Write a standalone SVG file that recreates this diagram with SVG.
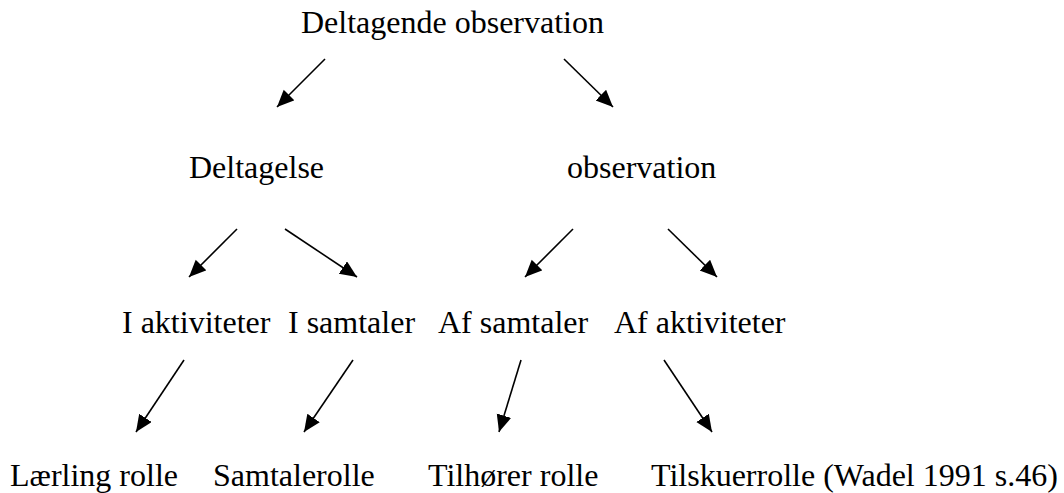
<svg xmlns="http://www.w3.org/2000/svg" width="1064" height="493" viewBox="0 0 1064 493">
<style>
text{font-family:"Liberation Serif","Times New Roman",serif;font-size:32px;fill:#000}
.c line{stroke:#000;stroke-width:1.6;marker-end:url(#ah)}
</style>
<defs>
<marker id="ah" markerUnits="userSpaceOnUse" markerWidth="20" markerHeight="16" refX="17" refY="7.5" orient="auto">
<path d="M0,0 L17,7.5 L0,15 Z" fill="#000"/>
</marker>
</defs>
<rect width="1064" height="493" fill="#fff"/>
<g id="n-root"><text x="301" y="33">Deltagende observation</text></g>
<g id="n-deltagelse"><text x="189" y="178">Deltagelse</text></g>
<g id="n-observation"><text x="567" y="178">observation</text></g>
<g id="n-iakt"><text x="122" y="333">I aktiviteter</text></g>
<g id="n-isam"><text x="288" y="333">I samtaler</text></g>
<g id="n-afsam"><text x="438" y="333">Af samtaler</text></g>
<g id="n-afakt"><text x="614" y="333">Af aktiviteter</text></g>
<g id="n-laerling"><text x="10" y="486">Lærling rolle</text></g>
<g id="n-samtalerolle"><text x="213" y="486">Samtalerolle</text></g>
<g id="n-tilhorer"><text x="428" y="486">Tilhører rolle</text></g>
<g id="n-tilskuer"><text x="651" y="486">Tilskuerrolle (Wadel 1991 s.46)</text></g>
<g id="connectors" class="c">
<line x1="325" y1="59" x2="277" y2="107"/>
<line x1="564" y1="59" x2="613" y2="107"/>
<line x1="237" y1="229" x2="189" y2="277"/>
<line x1="285" y1="229" x2="357" y2="277"/>
<line x1="573" y1="229" x2="525" y2="277"/>
<line x1="668" y1="229" x2="717" y2="277"/>
<line x1="184" y1="360" x2="136" y2="432"/>
<line x1="353" y1="360" x2="304" y2="432"/>
<line x1="521" y1="360" x2="499" y2="432"/>
<line x1="664" y1="360" x2="712" y2="432"/>
</g>
</svg>
